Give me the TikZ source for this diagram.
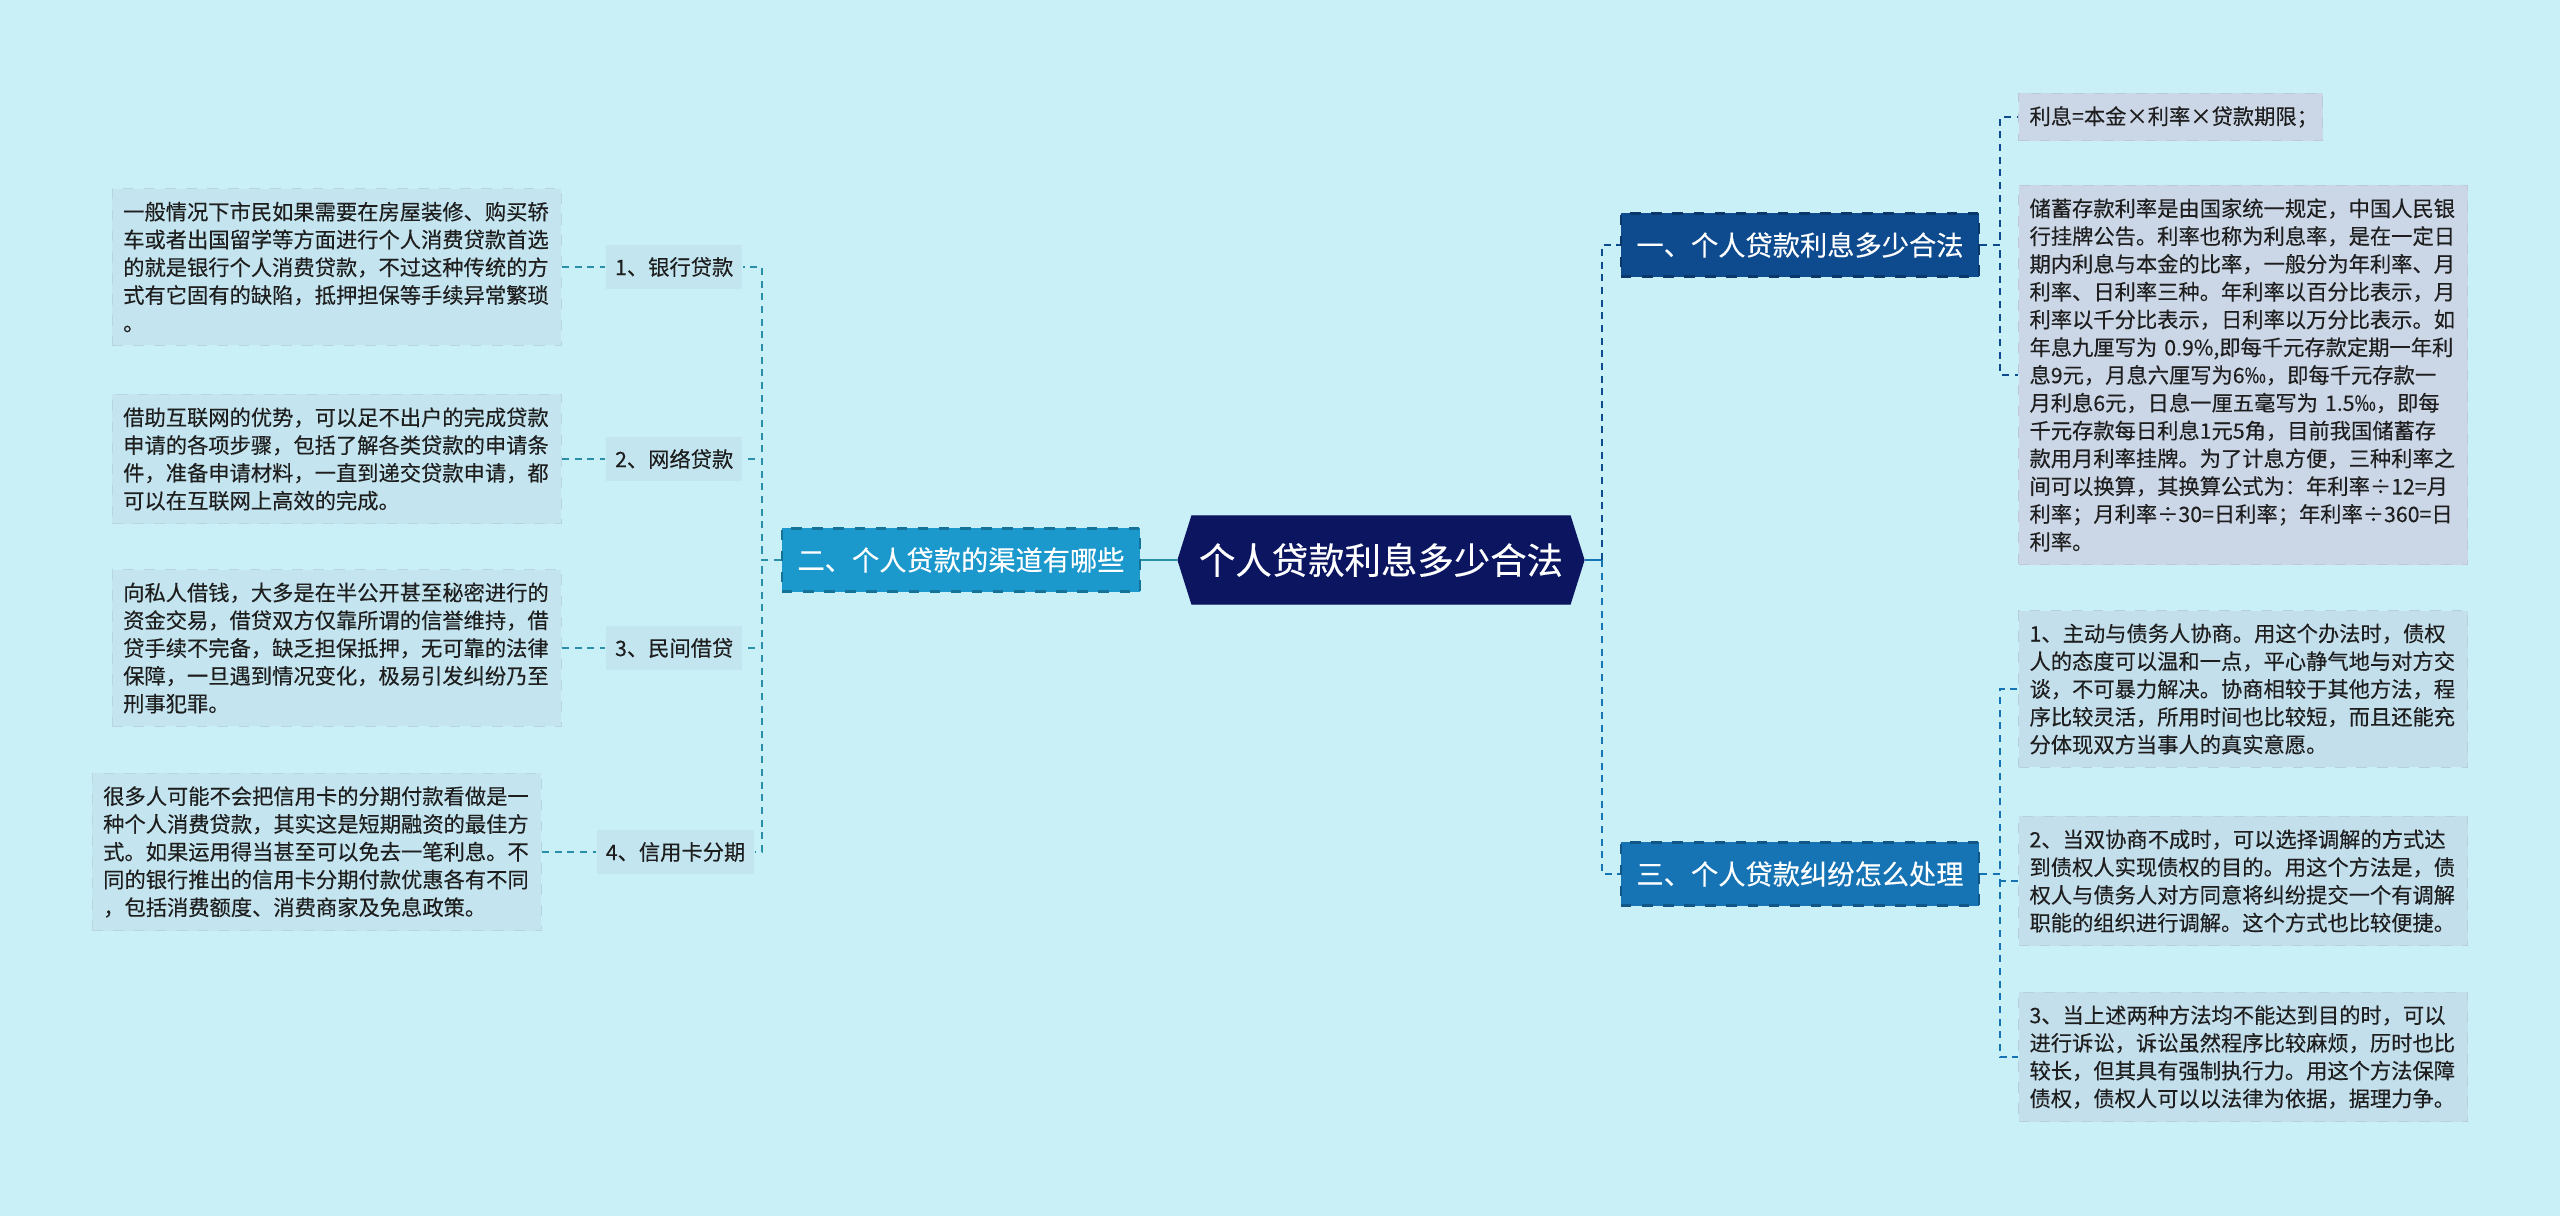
\documentclass[tikz,border=0pt]{standalone}
\usepackage{fontspec}
\setmainfont[UprightFeatures={FakeBold=0.3}]{Noto Sans CJK SC}
\usetikzlibrary{positioning,shapes.symbols}
\definecolor{bgcyan}{HTML}{C9EFF7}
\definecolor{rootnavy}{HTML}{0C1660}
\definecolor{topicone}{HTML}{0E4B8E}
\definecolor{topictwo}{HTML}{1C99CC}
\definecolor{topicthree}{HTML}{1674B5}
\definecolor{noteleft}{HTML}{C4E5EF}
\definecolor{notetop}{HTML}{CBD7E7}
\definecolor{notebot}{HTML}{C4DFEC}
\definecolor{tagfill}{HTML}{C2E5EF}
\definecolor{linkleft}{HTML}{2A8FA8}
\definecolor{inkgray}{HTML}{1E1E1E}
\newcommand{\bodyfont}{\fontsize{6.05}{7.9}\selectfont}

\begin{document}
\begin{tikzpicture}[
    x=0.01cm, y=-0.01cm,
    root/.style={
      signal, signal to=west and east, signal pointer angle=145,
      fill=rootnavy, draw=rootnavy, text=white,
      font=\fontsize{10.35}{12}\selectfont,
      minimum width=4.05cm, minimum height=0.88cm, inner sep=2pt
    },
    topic/.style={
      fill=#1, draw=#1!75!black, dashed, line width=0.6pt, text=white,
      font=\fontsize{7.75}{9}\selectfont,
      minimum width=3.58cm, minimum height=0.63cm, inner sep=2pt
    },
    tag/.style={
      fill=tagfill, text=inkgray, font=\bodyfont,
      minimum height=0.44cm, inner xsep=0.09cm
    },
    note/.style={
      fill=#1, draw=#1!93!black, dashed, line width=0.3pt,
      text=inkgray, font=\bodyfont, align=left,
      text width=4.27cm, inner xsep=0.11cm, inner ysep=0.13cm
    },
    link/.style={draw=#1, dash pattern=on 2pt off 1.6pt, line width=0.7pt},
    stem/.style={draw=#1, line width=0.8pt},
  ]
  \useasboundingbox (0,0) rectangle (2560,1216);
  \fill[bgcyan] (0,0) rectangle (2560,1216);

  % centre and main topics
  \node[root] (root) at (1381,560) {个人贷款利息多少合法};
  \node[topic=topictwo] (t2) at (961,560) {二、个人贷款的渠道有哪些};
  \node[topic=topicone] (t1) at (1800,245) {一、个人贷款利息多少合法};
  \node[topic=topicthree] (t3) at (1800,874) {三、个人贷款纠纷怎么处理};

  % bus points
  \coordinate (busL) at (762,560);
  \coordinate (busR) at (1602,560);
  \coordinate (busT) at (2000,245);
  \coordinate (busB) at (2000,874);

  % left side: channels
  \node[tag, anchor=east] (c1) at (743,267) {1、银行贷款};
  \node[tag, anchor=east] (c2) at (743,459) {2、网络贷款};
  \node[tag, anchor=east] (c3) at (743,648) {3、民间借贷};
  \node[tag, anchor=east] (c4) at (755,852) {4、信用卡分期};

  \node[note=noteleft, anchor=east] (n1) at (562,267) {一般情况下市民如果需要在房屋装修、购买轿\\车或者出国留学等方面进行个人消费贷款首选\\的就是银行个人消费贷款，不过这种传统的方\\式有它固有的缺陷，抵押担保等手续异常繁琐\\。};
  \node[note=noteleft, anchor=east] (n2) at (562,459) {借助互联网的优势，可以足不出户的完成贷款\\申请的各项步骤，包括了解各类贷款的申请条\\件，准备申请材料，一直到递交贷款申请，都\\可以在互联网上高效的完成。};
  \node[note=noteleft, anchor=east] (n3) at (562,648) {向私人借钱，大多是在半公开甚至秘密进行的\\资金交易，借贷双方仅靠所谓的信誉维持，借\\贷手续不完备，缺乏担保抵押，无可靠的法律\\保障，一旦遇到情况变化，极易引发纠纷乃至\\刑事犯罪。};
  \node[note=noteleft, anchor=east] (n4) at (542,852) {很多人可能不会把信用卡的分期付款看做是一\\种个人消费贷款，其实这是短期融资的最佳方\\式。如果运用得当甚至可以免去一笔利息。不\\同的银行推出的信用卡分期付款优惠各有不同\\，包括消费额度、消费商家及免息政策。};

  % right side: interest
  \node[note=notetop, anchor=west, text width=2.82cm] (m1) at (2018,117) {利息=本金×利率×贷款期限；};
  \node[note=notetop, anchor=west] (m2) at (2018,375) {储蓄存款利率是由国家统一规定，中国人民银\\行挂牌公告。利率也称为利息率，是在一定日\\期内利息与本金的比率，一般分为年利率、月\\利率、日利率三种。年利率以百分比表示，月\\利率以千分比表示，日利率以万分比表示。如\\年息九厘写为 0.9\%,即每千元存款定期一年利\\息9元，月息六厘写为6‰，即每千元存款一\\月利息6元，日息一厘五毫写为 1.5‰，即每\\千元存款每日利息1元5角，目前我国储蓄存\\款用月利率挂牌。为了计息方便，三种利率之\\间可以换算，其换算公式为：年利率÷12=月\\利率；月利率÷30=日利率；年利率÷360=日\\利率。};

  % right side: disputes
  \node[note=notebot, anchor=west] (m3) at (2018,689) {1、主动与债务人协商。用这个办法时，债权\\人的态度可以温和一点，平心静气地与对方交\\谈，不可暴力解决。协商相较于其他方法，程\\序比较灵活，所用时间也比较短，而且还能充\\分体现双方当事人的真实意愿。};
  \node[note=notebot, anchor=west] (m4) at (2018,881) {2、当双协商不成时，可以选择调解的方式达\\到债权人实现债权的目的。用这个方法是，债\\权人与债务人对方同意将纠纷提交一个有调解\\职能的组织进行调解。这个方式也比较便捷。};
  \node[note=notebot, anchor=west] (m5) at (2018,1057) {3、当上述两种方法均不能达到目的时，可以\\进行诉讼，诉讼虽然程序比较麻烦，历时也比\\较长，但其具有强制执行力。用这个方法保障\\债权，债权人可以以法律为依据，据理力争。};

  % connectors
  \draw[stem=linkleft] (t2.east) -- (root.west);
  \foreach \c in {c1,c2,c3,c4}
    \draw[link=linkleft] (t2.west) -- (busL) |- (\c.east);
  \foreach \n/\c in {n1/c1,n2/c2,n3/c3,n4/c4}
    \draw[link=linkleft] (\n.east) -- (\c.west);

  \draw[stem=topicthree] (root.east) -- (busR);
  \draw[link=topicone] (busR) |- (t1.west);
  \draw[link=topicthree] (busR) |- (t3.west);

  \foreach \m in {m1,m2}
    \draw[link=topicone] (t1.east) -- (busT) |- (\m.west);
  \foreach \m in {m3,m4,m5}
    \draw[link=topicthree] (t3.east) -- (busB) |- (\m.west);
\end{tikzpicture}
\end{document}
